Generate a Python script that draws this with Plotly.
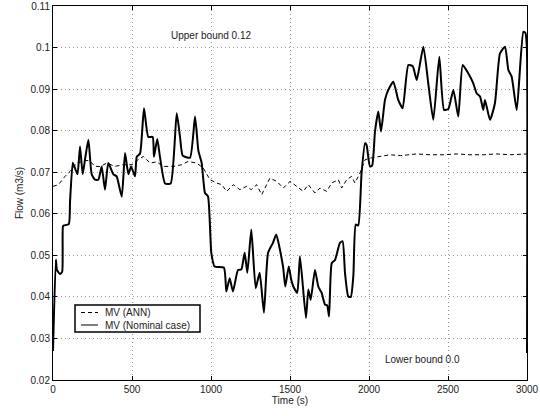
import plotly.graph_objects as go

# MV (Nominal case) - solid line
t_nom = [0, 18, 25, 44, 58, 63, 70, 100, 108, 125, 135, 155, 171, 188, 205, 224, 245, 266, 287,
         308, 329, 350, 382, 403, 435, 456, 477, 494, 519, 530, 551, 576, 603, 631, 639, 660,
         677, 709, 745, 783, 804, 821, 867, 899, 920, 941, 962, 981, 1002, 1023, 1082, 1097,
         1118, 1139, 1171, 1192, 1213, 1230, 1255, 1283, 1308, 1335, 1361, 1392, 1413, 1456,
         1470, 1492, 1508, 1521, 1546, 1563, 1601, 1616, 1631, 1658, 1679, 1700, 1722, 1735,
         1747, 1764, 1785, 1816, 1833, 1848, 1869, 1885, 1901, 1916, 1932, 1953, 1975, 1985,
         2006, 2020, 2038, 2059, 2076, 2101, 2122, 2154, 2185, 2213, 2249, 2277, 2302, 2344,
         2375, 2407, 2445, 2475, 2502, 2534, 2565, 2593, 2628, 2660, 2681, 2703, 2723, 2734,
         2766, 2797, 2829, 2861, 2882, 2903, 2935, 2977, 2990, 2999, 3000]
v_nom = [0.027, 0.049, 0.0465, 0.0455, 0.046, 0.057, 0.0572, 0.0575, 0.063, 0.0723, 0.0714,
         0.0695, 0.0762, 0.0695, 0.0737, 0.0778, 0.0695, 0.0682, 0.0682, 0.0714, 0.0658,
         0.0722, 0.0695, 0.069, 0.0641, 0.0746, 0.0695, 0.0714, 0.069, 0.0737, 0.0745,
         0.0854, 0.0785, 0.0785, 0.0737, 0.078, 0.0737, 0.0673, 0.0673, 0.0842, 0.0785,
         0.074, 0.0735, 0.0834, 0.0752, 0.0722, 0.065, 0.0642, 0.0506, 0.0473, 0.047,
         0.0413, 0.0445, 0.0413, 0.0465, 0.0466, 0.0506, 0.0458, 0.0562, 0.0421, 0.0458,
         0.0362, 0.0506, 0.053, 0.055, 0.0473, 0.0425, 0.0473, 0.0441, 0.0425, 0.041,
         0.0498, 0.0349, 0.0418, 0.0393, 0.0465, 0.0425, 0.041, 0.0381, 0.038, 0.0353,
         0.0481, 0.0489, 0.053, 0.0534, 0.0458, 0.0401, 0.04, 0.0451, 0.0574, 0.0572,
         0.0698, 0.077, 0.0765, 0.0714, 0.0716, 0.0798, 0.0846, 0.0798, 0.0874, 0.0898,
         0.0918, 0.0874, 0.0854, 0.0958, 0.0955, 0.0922, 0.1002, 0.0914, 0.0826, 0.0978,
         0.085, 0.0852, 0.0898, 0.0834, 0.0958, 0.0938, 0.0914, 0.089, 0.0882, 0.085,
         0.0874, 0.0826, 0.0866, 0.0986, 0.1002, 0.0946, 0.093, 0.085, 0.1038, 0.1035,
         0.1, 0.0265]

# MV (ANN) - dashed line
t_ann = [0, 34, 76, 108, 150, 203, 230, 266, 300, 340, 392, 445, 500, 530, 572, 614, 656, 698,
         761, 814, 856, 909, 951, 994, 1036, 1068, 1099, 1141, 1183, 1224, 1255, 1289, 1321,
         1352, 1373, 1416, 1458, 1500, 1542, 1584, 1616, 1658, 1690, 1732, 1764, 1806, 1827,
         1859, 1890, 1911, 1943, 1975, 2006, 2070, 2133, 2200, 2260, 2302, 2386, 2470, 2555,
         2639, 2723, 2808, 2892, 2966, 3000]
v_ann = [0.0666, 0.067, 0.069, 0.0702, 0.0722, 0.0728, 0.0728, 0.0714, 0.0714, 0.0722,
         0.0714, 0.0718, 0.0718, 0.0728, 0.0738, 0.0722, 0.0725, 0.0714, 0.0714, 0.0718,
         0.0726, 0.0722, 0.071, 0.0682, 0.0674, 0.067, 0.0654, 0.067, 0.0658, 0.0666,
         0.0658, 0.067, 0.0646, 0.067, 0.0686, 0.0678, 0.0662, 0.0678, 0.0666, 0.0654,
         0.067, 0.065, 0.0662, 0.0654, 0.0674, 0.0682, 0.0662, 0.0682, 0.069, 0.0674,
         0.0698, 0.073, 0.0734, 0.0738, 0.0742, 0.0740, 0.0742, 0.0744, 0.0742, 0.0742,
         0.0744, 0.0742, 0.0742, 0.0744, 0.0742, 0.0744, 0.0744]

x_ticks = [0, 500, 1000, 1500, 2000, 2500, 3000]
y_ticks = [0.02, 0.03, 0.04, 0.05, 0.06, 0.07, 0.08, 0.09, 0.1, 0.11]
legend_labels = ["MV (ANN)", "MV (Nominal case)"]

font = "Liberation Sans, Arial, sans-serif"
txt = "#222"

fig = go.Figure()
fig.add_trace(go.Scatter(x=t_ann, y=v_ann, mode="lines", name=legend_labels[0],
                         line=dict(color="black", width=1, dash="4px,3px")))
fig.add_trace(go.Scatter(x=t_nom, y=v_nom, mode="lines", name=legend_labels[1],
                         line=dict(color="black", width=2, shape="spline", smoothing=0.5)))

fig.add_annotation(x=1006, y=0.103, text="Upper bound 0.12", showarrow=False,
                   font=dict(family=font, size=10, color=txt))
fig.add_annotation(x=2339, y=0.025, text="Lower bound 0.0", showarrow=False,
                   font=dict(family=font, size=10, color=txt))

# custom compact legend (paper coords)
L, R, T, B = 53, 527, 6, 380
def px(xp):
    return (xp - L) / (R - L)
def py(yp):
    return (B - yp) / (B - T)

fig.add_shape(type="rect", xref="paper", yref="paper",
              x0=px(75), x1=px(200), y0=py(332), y1=py(305),
              line=dict(color="black", width=1.5), fillcolor="white", layer="above")
fig.add_shape(type="line", xref="paper", yref="paper",
              x0=px(81), x1=px(98), y0=py(312.5), y1=py(312.5),
              line=dict(color="black", width=1, dash="4px,3px"), layer="above")
fig.add_shape(type="line", xref="paper", yref="paper",
              x0=px(81), x1=px(98), y0=py(325), y1=py(325),
              line=dict(color="#555", width=1.5), layer="above")
for lbl, yy in zip(legend_labels, [312.5, 325]):
    fig.add_annotation(xref="paper", yref="paper", x=px(103), y=py(yy), text=lbl,
                       showarrow=False, xanchor="left", yanchor="middle",
                       font=dict(family=font, size=10, color=txt))

axis_common = dict(showline=True, linecolor="black", linewidth=1, mirror="ticks",
                   ticks="inside", ticklen=4, tickcolor="black", automargin=False,
                   showgrid=True, gridcolor="#999999", griddash="1px,3px", gridwidth=1,
                   zeroline=False, tickfont=dict(family=font, size=10, color=txt))

fig.update_xaxes(range=[0, 3000], tickvals=x_ticks, ticktext=[str(v) for v in x_ticks],
                 title=dict(text="Time (s)", font=dict(family=font, size=10, color=txt),
                            standoff=2),
                 **axis_common)
fig.update_yaxes(range=[0.02, 0.11], tickvals=y_ticks, ticktext=[f"{v:g}" for v in y_ticks],
                 title=dict(text="Flow (m3/s)", font=dict(family=font, size=10, color=txt),
                            standoff=5),
                 **axis_common)

fig.update_layout(
    width=540, height=416,
    margin=dict(l=53, r=13, t=6, b=36),
    paper_bgcolor="white", plot_bgcolor="white",
    showlegend=False,
)

fig.write_html("out.html", config={"displayModeBar": False},
               post_script="document.body.style.margin='0px';document.body.style.overflow='hidden';")
